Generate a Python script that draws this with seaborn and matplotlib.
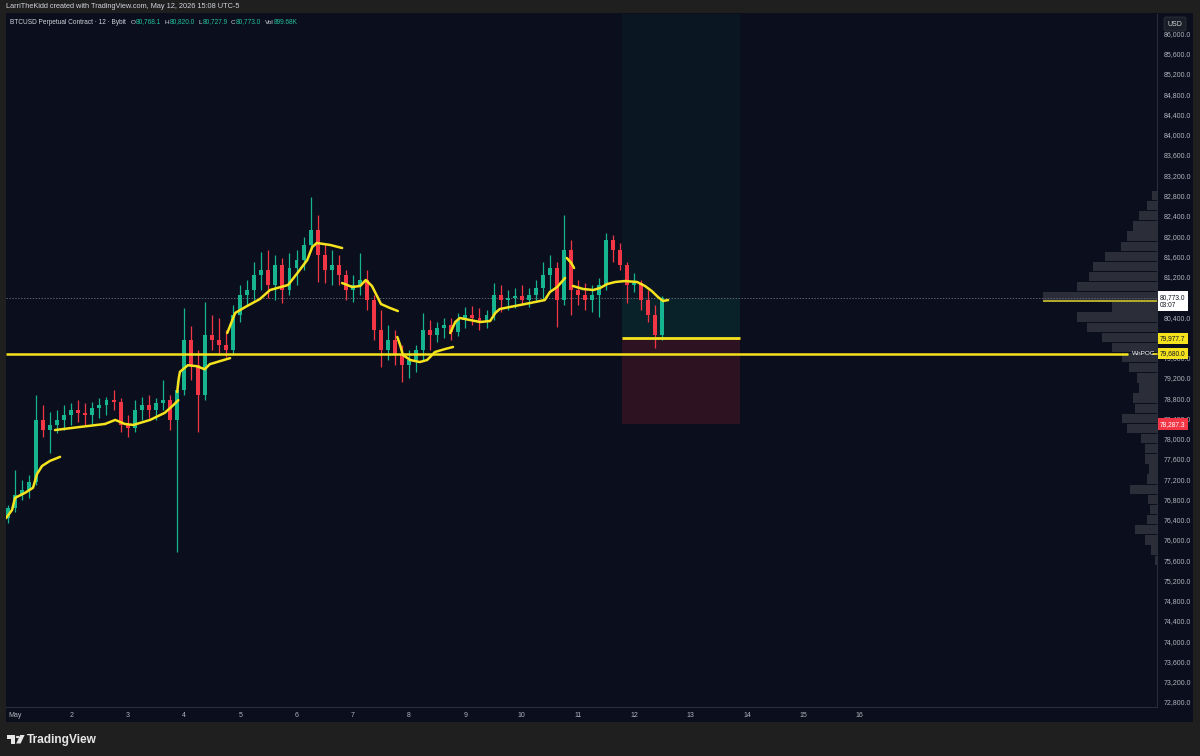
import numpy as np
import pandas as pd
import matplotlib
matplotlib.use('Agg')
import matplotlib.pyplot as plt
from matplotlib.patches import Rectangle, Polygon, Circle
import seaborn as sns

# ---------------- data ----------------
# BTCUSD, resampled to 3h candles, local time UTC-5
candle_time = pd.date_range('2026-04-30 21:00', periods=94, freq='3h')
opens = [76430, 76630, 76890, 76990, 77140, 78370, 78170, 78270, 78370, 78470,
         78570, 78510, 78470, 78610, 78670, 78760, 78720, 78270, 78210, 78570,
         78670, 78570, 78700, 78760, 78370, 78960, 79950, 79450, 78860, 80050,
         79950, 79850, 79750, 80440, 80840, 80940, 81230, 81330, 81030, 81430,
         80940, 81370, 81530, 81820, 82120, 81630, 81330, 81430, 81230, 80940,
         81030, 81130, 80740, 80150, 79750, 79950, 79650, 79450, 79550, 79750,
         80150, 80050, 80190, 80240, 80110, 80340, 80440, 80380, 80300, 80440,
         80840, 80740, 80780, 80820, 80740, 80840, 80970, 81230, 81370, 80740,
         81730, 80940, 80840, 80740, 80840, 81030, 81920, 81730, 81430, 81030,
         81070, 80740, 80440, 80050]
highs = [76690, 77380, 77180, 77280, 78860, 78670, 78530, 78570, 78670, 78700,
         78760, 78700, 78720, 78800, 78820, 78960, 78800, 78470, 78760, 78820,
         78860, 78800, 79160, 78860, 79160, 80580, 80220, 79750, 80700, 80440,
         80380, 80150, 80640, 81030, 81130, 81490, 81690, 81730, 81630, 81570,
         81670, 81730, 81980, 82770, 82420, 81860, 81730, 81630, 81330, 81230,
         81670, 81330, 80840, 80540, 80240, 80150, 79850, 79750, 79850, 80480,
         80340, 80300, 80380, 80380, 80480, 80600, 80620, 80580, 80540, 81070,
         81030, 80940, 80970, 81030, 80970, 81130, 81490, 81630, 81490, 82420,
         81920, 81130, 81070, 81030, 81170, 82060, 82020, 81860, 81490, 81270,
         81130, 80940, 80640, 80820]
lows = [76330, 76550, 76790, 76830, 77080, 78030, 77720, 78110, 78170, 78270,
        78330, 78270, 78290, 78410, 78470, 78570, 78130, 78030, 78130, 78370,
        78410, 78370, 78570, 78170, 75760, 78860, 79160, 78130, 78760, 79750,
        79650, 79610, 79650, 80300, 80640, 80740, 80940, 80780, 80740, 80680,
        80840, 81030, 81330, 81730, 81090, 81070, 81030, 81030, 80740, 80700,
        80840, 80540, 79950, 79420, 79550, 79450, 79120, 79200, 79320, 79550,
        79750, 79910, 79990, 79950, 80030, 80190, 80240, 80150, 80190, 80340,
        80500, 80540, 80580, 80640, 80600, 80700, 80740, 80900, 80200, 80640,
        80440, 80640, 80540, 80500, 80400, 80940, 81490, 81330, 80680, 80900,
        80540, 80300, 79790, 79950]
closes = [76630, 76890, 76990, 77140, 78370, 78170, 78270, 78370, 78470, 78570,
          78510, 78470, 78610, 78670, 78760, 78720, 78270, 78210, 78570, 78670,
          78570, 78700, 78760, 78370, 78960, 79950, 79450, 78860, 80050, 79950,
          79850, 79750, 80440, 80840, 80940, 81230, 81330, 81030, 81430, 80940,
          81370, 81530, 81820, 82120, 81630, 81330, 81430, 81230, 80940, 81030,
          81130, 80740, 80150, 79750, 79950, 79650, 79450, 79550, 79750, 80150,
          80050, 80190, 80240, 80110, 80340, 80440, 80380, 80300, 80440, 80840,
          80740, 80780, 80820, 80740, 80840, 80970, 81230, 81370, 80740, 81730,
          80940, 80840, 80740, 80840, 81030, 81920, 81730, 81430, 81030, 81070,
          80740, 80440, 80050, 80773]

# session VWAP segments (t = days since May 1 00:00)
vwap_session = (['a'] * 9 + ['b'] * 10 + ['c'] * 9 + ['d'] * 12 + ['e'] * 9
                + ['f'] * 9 + ['g'] * 14 + ['s'] * 3 + ['h'] * 13)
vwap_t = [-0.16, -0.053, 0.0, 0.178, 0.32, 0.39, 0.48, 0.62, 0.80,
          0.71, 1.15, 1.60, 1.78, 1.95, 2.10, 2.40, 2.66, 2.81, 2.90,
          2.88, 2.91, 2.93, 3.07, 3.23, 3.37, 3.46, 3.64, 3.82,
          3.77, 3.91, 4.09, 4.35, 4.53, 4.85, 5.03, 5.19, 5.28, 5.36, 5.60, 5.81,
          5.81, 5.99, 6.13, 6.23, 6.34, 6.43, 6.50, 6.66, 6.80,
          6.79, 6.84, 6.89, 7.02, 7.19, 7.32, 7.46, 7.64, 7.78,
          7.73, 7.82, 7.90, 8.08, 8.26, 8.44, 8.53, 8.61, 8.88, 9.15, 9.41, 9.50, 9.63, 9.77,
          9.80, 9.88, 9.93,
          9.91, 10.09, 10.27, 10.39, 10.52, 10.66, 10.83, 11.05, 11.19, 11.31, 11.42, 11.51, 11.60]
vwap_price = [76430, 76590, 76830, 76930, 77030, 77300, 77460, 77560, 77640,
              78170, 78230, 78290, 78370, 78290, 78270, 78370, 78510, 78660, 78760,
              78920, 79200, 79320, 79450, 79430, 79370, 79470, 79530, 79590,
              80086, 80481, 80599, 80757, 80935, 81034, 81290, 81527, 81784, 81863, 81824, 81764,
              81073, 80994, 81014, 81132, 81014, 80816, 80658, 80580, 80520,
              80007, 79849, 79652, 79553, 79513, 79553, 79711, 79770, 79810,
              80086, 80303, 80382, 80343, 80303, 80323, 80481, 80560, 80619, 80678, 80737, 80895, 80994, 81172,
              81567, 81468, 81369,
              81014, 80955, 80935, 80974, 81053, 81093, 81112, 81093, 81014, 80915, 80797, 80718, 80737]

# visible range volume profile (rows of 200 USD)
vp_price = [82800, 82600, 82400, 82200, 82000, 81800, 81600, 81400, 81200, 81000,
            80800, 80600, 80400, 80200, 80000, 79800, 79600, 79400, 79200, 79000,
            78800, 78600, 78400, 78200, 78000, 77800, 77600, 77400, 77200, 77000,
            76800, 76600, 76400, 76200, 76000, 75800, 75600]
vp_volume = [5, 10, 18, 24, 30, 36, 52, 64, 68, 80,
             114, 45, 80, 70, 55, 45, 35, 28, 20, 18,
             24, 22, 35, 30, 16, 12, 12, 8, 10, 27,
             9, 7, 10, 22, 12, 6, 2]
vp_poc = 80720

last_price = 80773.0
wn_poc = 79680.0
entry_price = 79977.7
stop_price = 78287.3
target_price = 86500.0
pos_t0, pos_t1 = 10.78, 12.88

day_ticks = list(range(16))
day_labels = ['May'] + [str(d) for d in range(2, 17)]

# ---------------- style ----------------
BG = '#0b0e1c'
OUTER = '#1f1f1f'
GREEN = '#17b58f'
RED = '#f23645'
YELLOW = '#f5e31e'
AXCOL = '#b2b5be'
TXT = '#d1d4dc'

sns.set_style('dark', rc={'axes.facecolor': BG, 'figure.facecolor': OUTER})
plt.rcParams['font.family'] = ['Liberation Sans', 'DejaVu Sans']

W, H = 1200, 756
fig = plt.figure(figsize=(12, 7.56), dpi=100)
fig.patch.set_facecolor(OUTER)


def fx(px):
    return px / W


def fy(py):
    return 1 - py / H


# chart panel background (includes price/time scales)
fig.patches.append(Rectangle((fx(6), fy(722)), fx(1193) - fx(6), fy(13) - fy(722),
                             transform=fig.transFigure, facecolor=BG, edgecolor='none', zorder=-10))

ax = fig.add_axes([fx(6), fy(707), fx(1157) - fx(6), fy(14) - fy(707)])
ax.set_facecolor(BG)
x_left, x_right = -0.16, 20.284
ax.set_xlim(x_left, x_right)
ax.set_ylim(72701, 86385)

# candles
df = pd.DataFrame({'time': candle_time, 'open': opens, 'high': highs, 'low': lows, 'close': closes})
df['t'] = (df['time'] - pd.Timestamp('2026-05-01')) / pd.Timedelta(days=1)
up = df['close'] >= df['open']
cols = np.where(up, GREEN, RED)
ax.vlines(df['t'], df['low'], df['high'], colors=cols, lw=0.9, zorder=3)
body = (df['close'] - df['open']).abs().clip(lower=25)
ax.bar(df['t'], body, bottom=df[['open', 'close']].min(axis=1), width=0.07,
       color=cols, linewidth=0, zorder=3)

# volume profile on the right edge
vp_w = np.array(vp_volume) / max(vp_volume) * 2.02
ax.barh(vp_price, -vp_w, left=x_right, height=185, color='#2f323c', alpha=0.9,
        linewidth=0, zorder=1)
ax.hlines(vp_poc, x_right - 2.02, x_right, color='#d9cc2a', lw=1.1, zorder=2)

# position tool
ax.add_patch(Rectangle((pos_t0, entry_price), pos_t1 - pos_t0, target_price - entry_price,
                       facecolor='#089981', alpha=0.065, linewidth=0, zorder=0.5))
ax.add_patch(Rectangle((pos_t0, entry_price), pos_t1 - pos_t0, last_price - entry_price,
                       facecolor='#089981', alpha=0.08, linewidth=0, zorder=0.6))
ax.add_patch(Rectangle((pos_t0, stop_price), pos_t1 - pos_t0, entry_price - stop_price,
                       facecolor='#f23645', alpha=0.15, linewidth=0, zorder=0.5))
ax.hlines(entry_price, pos_t0, pos_t1, color=YELLOW, lw=2, zorder=5)

# last price dotted line, WnPOC level
ax.axhline(last_price, color='#5d616e', lw=0.7, ls=(0, (1.5, 1.5)), zorder=2)
ax.hlines(wn_poc, x_left, 19.77, color=YELLOW, lw=1.8, zorder=5)
ax.plot([0.9965, 1.0], [wn_poc, wn_poc], color=YELLOW, lw=1.2,
        transform=ax.get_yaxis_transform(), clip_on=False, zorder=5)
ax.text(0.9785, wn_poc, 'WnPOC', transform=ax.get_yaxis_transform(), color='white',
        fontsize=4.6, va='center', ha='left', zorder=6)

# session VWAPs
vwap = pd.DataFrame({'session': vwap_session, 't': vwap_t, 'price': vwap_price})
sns.lineplot(data=vwap, x='t', y='price', units='session', estimator=None, sort=False,
             color=YELLOW, lw=1.8, ax=ax, zorder=4)
ax.set_xlabel('')
ax.set_ylabel('')

# axes / scales
yt = np.arange(72800, 86001, 400)
tags = [last_price, entry_price, wn_poc, stop_price]
yt = [v for v in yt if min(abs(v - p) for p in tags) > 60]
ax.set_yticks(yt)
ax.set_yticklabels([f'{v:,.1f}' for v in yt])
ax.yaxis.tick_right()
ax.tick_params(axis='y', length=0, pad=4.5, labelsize=5, labelcolor=AXCOL)
ax.set_xticks(day_ticks)
ax.set_xticklabels(day_labels)
ax.tick_params(axis='x', length=0, pad=3.5, labelsize=5, labelcolor=AXCOL)
ax.grid(False)
for s in ['top', 'left']:
    ax.spines[s].set_visible(False)
for s in ['right', 'bottom']:
    ax.spines[s].set_color('#2a2e39')
    ax.spines[s].set_linewidth(0.8)

# price tags on the scale
ytr = ax.get_yaxis_transform()
tag_x = (1160 - 6) / (1157 - 6)
ax.text(tag_x, last_price - 60, '80,773.0\n03:07', transform=ytr, fontsize=4.8, color='#131722',
        va='center', ha='left', linespacing=1.25, clip_on=False, zorder=10,
        bbox=dict(boxstyle='square,pad=0.35', fc='white', ec='none'))
ax.text(tag_x, entry_price, '79,977.7', transform=ytr, fontsize=4.8, color='#131722',
        va='center', ha='left', clip_on=False, zorder=10,
        bbox=dict(boxstyle='square,pad=0.35', fc=YELLOW, ec='none'))
ax.text(tag_x, wn_poc, '79,680.0', transform=ytr, fontsize=4.8, color='#131722',
        va='center', ha='left', clip_on=False, zorder=10,
        bbox=dict(boxstyle='square,pad=0.35', fc=YELLOW, ec='none'))
ax.text(tag_x, stop_price, '78,287.3', transform=ytr, fontsize=4.8, color='white',
        va='center', ha='left', clip_on=False, zorder=10,
        bbox=dict(boxstyle='square,pad=0.35', fc=RED, ec='none'))

# header texts
fig.text(fx(6), fy(7), 'LarriTheKidd created with TradingView.com, May 12, 2026 15:08 UTC-5',
         fontsize=5.3, color=TXT, va='center', ha='left')
prev = fig.text(fx(10), fy(22), 'BTCUSD Perpetual Contract · 12 · Bybit',
                fontsize=4.7, color=TXT, va='center')
gap = 3.2
for lab, val in [('O', '80,768.1'), ('H', '80,820.0'), ('L', '80,727.9'),
                 ('C', '80,773.0'), ('Vol', '899.68K')]:
    prev = ax.annotate(lab, xy=(1, 0.5), xycoords=prev, xytext=(gap, 0), textcoords='offset points',
                       fontsize=4.6, color=TXT, va='center', ha='left')
    prev = ax.annotate(val, xy=(1, 0.5), xycoords=prev, xytext=(0.3, 0), textcoords='offset points',
                       fontsize=4.7, color='#22c29a', va='center', ha='left')
    gap = 2.6

fig.text(fx(1175), fy(24), 'USD', fontsize=5, color=TXT, va='center', ha='center',
         zorder=12, bbox=dict(boxstyle='round,pad=0.5,rounding_size=0.3', fc='#1b1e27', ec='#2e323d', lw=0.6))

# TradingView logo
lc = '#e6e6e6'
fig.patches.append(Polygon([(fx(7), fy(735)), (fx(15), fy(735)), (fx(15), fy(743.5)), (fx(11.3), fy(743.5)),
                            (fx(11.3), fy(738.6)), (fx(7), fy(738.6))], closed=True,
                           transform=fig.transFigure, fc=lc, ec='none'))
fig.patches.append(Circle((fx(17.6), fy(737)), 1.8 / W, transform=fig.transFigure, fc=lc, ec='none'))
fig.patches.append(Polygon([(fx(20.2), fy(735)), (fx(24.6), fy(735)), (fx(20.6), fy(743.5)),
                            (fx(16.2), fy(743.5))], closed=True, transform=fig.transFigure, fc=lc, ec='none'))
fig.text(fx(27), fy(739.5), 'TradingView', fontsize=8.6, color=lc, va='center', ha='left', fontweight='bold')

fig.savefig('out.png', dpi=100, facecolor=fig.get_facecolor())
